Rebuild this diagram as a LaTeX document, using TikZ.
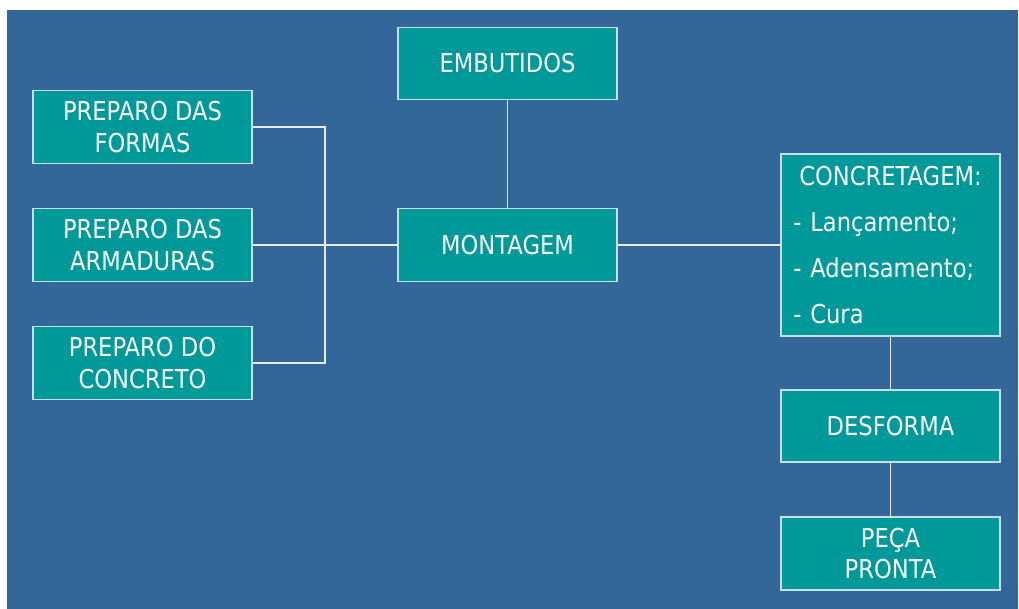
\documentclass[tikz,border=0pt]{standalone}
\usepackage{fontspec}
\setmainfont[FakeStretch=0.87]{DejaVu Sans}
\usetikzlibrary{positioning}
\definecolor{fundo}{RGB}{51,102,153}
\definecolor{caixa}{RGB}{0,153,153}
\definecolor{borda}{RGB}{200,222,228}

\begin{document}
\begin{tikzpicture}[node distance=22.5pt,
	etapa/.style={draw=borda, line width=0.75pt, fill=caixa, text=white, minimum width=109.5pt, minimum height=36.5pt, inner sep=0pt, outer sep=0pt, align=center, font=\fontsize{13}{15.6}\selectfont},
	ligacao/.style={draw=white!88!fundo, line width=0.6pt}]
	\useasboundingbox (-253.75pt,-182pt) rectangle (255.75pt,122.5pt);
	\fill[fundo] (-250.25pt,-182pt) rectangle (255.25pt,117.5pt);
				\node[etapa] (montagem) at (0,0) {MONTAGEM};
				\node[etapa, above=54.5pt of montagem, minimum height=36pt] (embutidos) {EMBUTIDOS};
				\node[etapa, left=73pt of montagem] (armaduras) {PREPARO DAS\\ARMADURAS};
				\node[etapa, above=of armaduras] (formas) {PREPARO DAS\\FORMAS};
				\node[etapa, below=of armaduras] (concreto) {PREPARO DO\\CONCRETO};
				\node[etapa, right=82pt of montagem, minimum height=91pt, text width=97pt, align=left] (concretagem) {\makebox[97pt]{CONCRETAGEM:}\\[7.4pt]- Lançamento;\\[7.4pt]- Adensamento;\\[7.4pt]- Cura};
				\node[etapa, below=27pt of concretagem, minimum height=36pt] (desforma) {DESFORMA};
				\node[etapa, below=27.5pt of desforma] (peca) {PEÇA\\PRONTA};
				\coordinate[right=36.5pt of armaduras.east] (bus);
				\draw[ligacao] (formas.east) -| (bus) |- (concreto.east);
				\path[ligacao] (armaduras) edge (montagem)
					(embutidos) edge (montagem)
					(montagem) edge (concretagem)
					(concretagem) edge (desforma)
					(desforma) edge (peca);
			\end{tikzpicture}
\end{document}
